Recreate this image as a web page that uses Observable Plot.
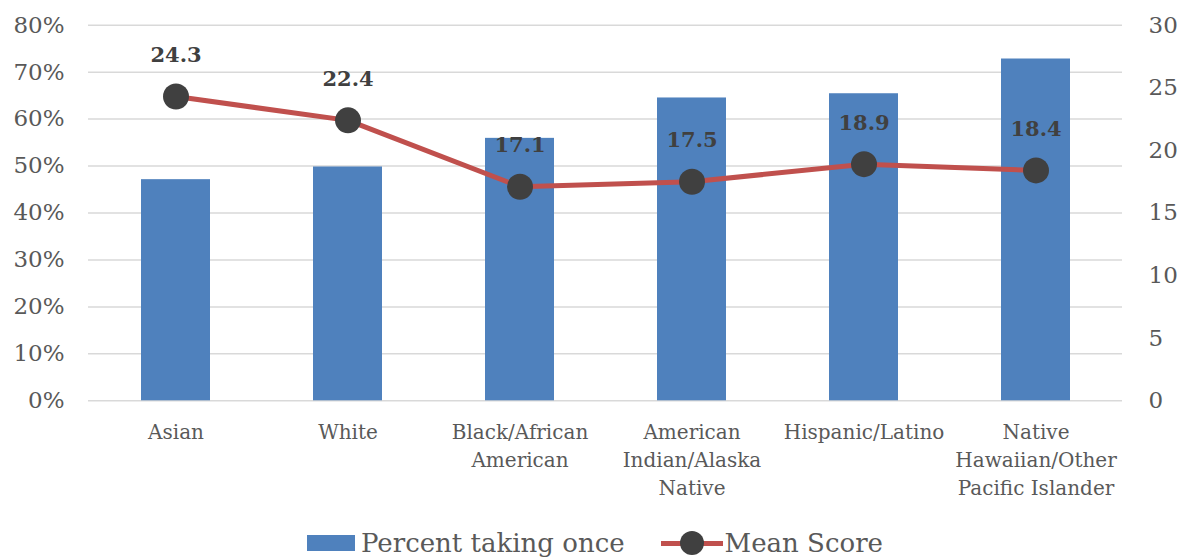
<!DOCTYPE html>
<html>
<head>
<meta charset="utf-8">
<script src="https://cdn.jsdelivr.net/npm/d3@7"></script>
<script src="https://cdn.jsdelivr.net/npm/@observablehq/plot@0.6"></script>
<style>
  html, body { margin: 0; padding: 0; background: #fff; }
  body { width: 1190px; height: 558px; overflow: hidden; font-family: "DejaVu Serif", serif; }
  #legend { position: absolute; left: 0; top: 524px; width: 1190px; height: 38px; display: flex; justify-content: center; align-items: center; color: #595959; font-size: 26px; font-family: "DejaVu Serif", serif; }
  .item { display: flex; align-items: center; margin: 0 18px; }
  .sw { width: 48px; height: 16px; background: #4F81BD; margin-right: 6px; }
  .ln { position: relative; width: 62px; height: 26px; margin-right: 2px; }
  .ln::before { content: ""; position: absolute; left: 0; right: 0; top: 11px; height: 5px; background: #C0504D; }
  .ln::after { content: ""; position: absolute; left: 19px; top: 1px; width: 24px; height: 24px; border-radius: 50%; background: #404040; }
</style>
</head>
<body>
<div id="chart"></div>
<div id="legend">
  <div class="item"><div class="sw"></div><span>Percent taking once</span></div>
  <div class="item"><div class="ln"></div><span>Mean Score</span></div>
</div>
<script>
const categories = ["Asian", "White", "Black/African\nAmerican", "American\nIndian/Alaska\nNative", "Hispanic/Latino", "Native\nHawaiian/Other\nPacific Islander"];
const percentTakingOnce = [0.471, 0.498, 0.559, 0.645, 0.654, 0.728];
const meanScore = [24.3, 22.4, 17.1, 17.5, 18.9, 18.4];
const leftTicks = [0, 0.1, 0.2, 0.3, 0.4, 0.5, 0.6, 0.7, 0.8];
const rightTicks = [0, 5, 10, 15, 20, 25, 30];
const rightMax = 30;
const leftMax = 0.8;

const rows = categories.map((c, i) => ({cat: c, pct: percentTakingOnce[i], score: meanScore[i], scoreY: meanScore[i] / rightMax * leftMax}));

const H = 520;
const chart = Plot.plot({
  width: 1190,
  height: H,
  marginLeft: 88,
  marginRight: 68,
  marginTop: 24.7,
  marginBottom: H - 400.3,
  style: {fontFamily: "DejaVu Serif, serif", background: "#fff"},
  x: {domain: categories, paddingInner: 0.6, paddingOuter: 0.3, align: 0.5},
  y: {domain: [0, leftMax]},
  marks: [
    Plot.gridY(leftTicks, {stroke: "#d9d9d9", strokeOpacity: 1, strokeWidth: 1.5}),
    Plot.barY(rows, {x: "cat", y: "pct", fill: "#4F81BD"}),
    Plot.axisY({ticks: leftTicks, anchor: "left", tickSize: 0, tickPadding: 24, tickFormat: d => Math.round(d * 100) + "%", fontSize: 23, color: "#595959", label: null}),
    Plot.axisY({ticks: rightTicks.map(v => v / rightMax * leftMax), anchor: "right", tickSize: 0, tickPadding: 26, tickFormat: d => String(Math.round(d / leftMax * rightMax)), fontSize: 23, color: "#595959", label: null, textAnchor: "start"}),
    Plot.axisX({tickSize: 0, tickPadding: 18, fontSize: 20, lineHeight: 1.4, color: "#595959", label: null}),
    Plot.line(rows, {x: "cat", y: "scoreY", stroke: "#C0504D", strokeWidth: 5}),
    Plot.dot(rows, {x: "cat", y: "scoreY", r: 13, fill: "#404040", stroke: "none"}),
    Plot.text(rows, {x: "cat", y: "scoreY", text: d => d.score.toFixed(1), dy: -41, fontSize: 21, fontWeight: "bold", fill: "#404040"})
  ]
});
document.getElementById("chart").appendChild(chart);
</script>
</body>
</html>
